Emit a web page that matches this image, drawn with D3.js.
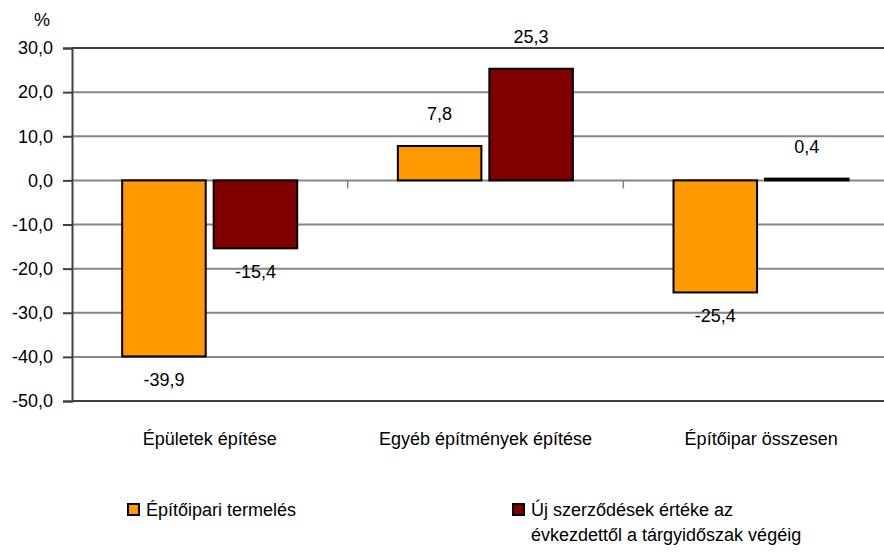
<!DOCTYPE html>
<html>
<head>
<meta charset="utf-8">
<script src="https://cdn.jsdelivr.net/npm/d3@7"></script>
<style>
  body { margin: 0; background: #fff; }
  svg text { font-family: "Liberation Sans", Arial, sans-serif; fill: #000; }
</style>
</head>
<body>
<svg id="chart"></svg>
<script>
var width = 884;
var height = 552;

// data
var categories = ["Épületek építése", "Egyéb építmények építése", "Építőipar összesen"];
var seriesNames = ["Építőipari termelés", "Új szerződések értéke az évkezdettől a tárgyidőszak végéig"];
var termeles = [-39.9, 7.8, -25.4];
var szerzodesek = [-15.4, 25.3, 0.4];
var yTicks = [30, 20, 10, 0, -10, -20, -30, -40, -50];
var colors = ["#ff9900", "#800000"];

var fontSize = "18px";
var margin = { left: 72, top: 48, right: 899, bottom: 401 };

var svg = d3.select("#chart").attr("width", width).attr("height", height);
svg.append("rect").attr("width", width).attr("height", height).attr("fill", "#fff");

var y = d3.scaleLinear().domain([-50, 30]).range([margin.bottom, margin.top]);
var x = d3.scaleBand().domain(categories).range([margin.left, margin.right]).padding(0);
var bw = x.bandwidth();
var inner = d3
  .scaleBand()
  .domain([0, 1])
  .range([bw * 0.182, bw * 0.817])
  .paddingInner(0.087)
  .paddingOuter(0);

var fmt = function (v) {
  return d3.format(".1f")(v).replace(".", ",").replace("−", "-");
};

// gridlines
svg.selectAll(".grid")
  .data(yTicks)
  .enter()
  .append("line")
  .attr("x1", margin.left)
  .attr("x2", margin.right)
  .attr("y1", function (d) { return y(d); })
  .attr("y2", function (d) { return y(d); })
  .attr("stroke", function (d) { return d === 30 || d === -50 ? "#404040" : "#868686"; })
  .attr("stroke-width", 2);

// category ticks on the zero line
svg.selectAll(".ctick")
  .data(categories.slice(1))
  .enter()
  .append("line")
  .attr("x1", function (d) { return x(d); })
  .attr("x2", function (d) { return x(d); })
  .attr("y1", y(0))
  .attr("y2", y(0) + 8)
  .attr("stroke", "#808080")
  .attr("stroke-width", 1.5);

// y axis
var yAxis = d3.axisLeft(y).tickValues(yTicks).tickSize(9).tickPadding(10).tickFormat(fmt);
var ga = svg.append("g").attr("transform", "translate(" + margin.left + ",0)").call(yAxis);
ga.select(".domain").attr("stroke", "#404040").attr("stroke-width", 2);
ga.selectAll(".tick line").attr("stroke", "#404040").attr("stroke-width", 2);
ga.selectAll(".tick text")
  .style("font-size", fontSize)
  .style("font-family", "'Liberation Sans', Arial, sans-serif")
  .attr("fill", "#000");

svg.append("text")
  .attr("x", 42)
  .attr("y", 26)
  .attr("text-anchor", "middle")
  .style("font-size", fontSize)
  .text("%");

// bars
var series = [termeles, szerzodesek];
series.forEach(function (vals, si) {
  var g = svg.append("g");
  g.selectAll("rect")
    .data(vals)
    .enter()
    .append("rect")
    .attr("x", function (d, i) { return x(categories[i]) + inner(si); })
    .attr("width", inner.bandwidth())
    .attr("y", function (d) { return y(Math.max(0, d)); })
    .attr("height", function (d) { return Math.abs(y(d) - y(0)); })
    .attr("fill", colors[si])
    .attr("stroke", "#000")
    .attr("stroke-width", 2);

  g.selectAll("text")
    .data(vals)
    .enter()
    .append("text")
    .attr("x", function (d, i) { return x(categories[i]) + inner(si) + inner.bandwidth() / 2; })
    .attr("y", function (d) { return d >= 0 ? y(d) - 26 : y(d) + 30; })
    .attr("text-anchor", "middle")
    .style("font-size", fontSize)
    .text(function (d) { return fmt(d); });
});

// category labels
svg.selectAll(".clabel")
  .data(categories)
  .enter()
  .append("text")
  .attr("x", function (d) { return x(d) + bw / 2; })
  .attr("y", 445)
  .attr("text-anchor", "middle")
  .style("font-size", fontSize)
  .text(function (d) { return d; });

// legend
var legend = [
  { x: 128, lines: ["Építőipari termelés"] },
  { x: 513, lines: ["Új szerződések értéke az", "évkezdettől a tárgyidőszak végéig"] }
];
legend.forEach(function (l, i) {
  svg.append("rect")
    .attr("x", l.x)
    .attr("y", 504)
    .attr("width", 11)
    .attr("height", 11)
    .attr("fill", colors[i])
    .attr("stroke", "#000")
    .attr("stroke-width", 2);
  var t = svg.append("text").attr("x", l.x + 18).attr("y", 516).style("font-size", fontSize);
  l.lines.forEach(function (s, j) {
    t.append("tspan").attr("x", l.x + 18).attr("dy", j ? 25 : 0).text(s);
  });
});
</script>
</body>
</html>
